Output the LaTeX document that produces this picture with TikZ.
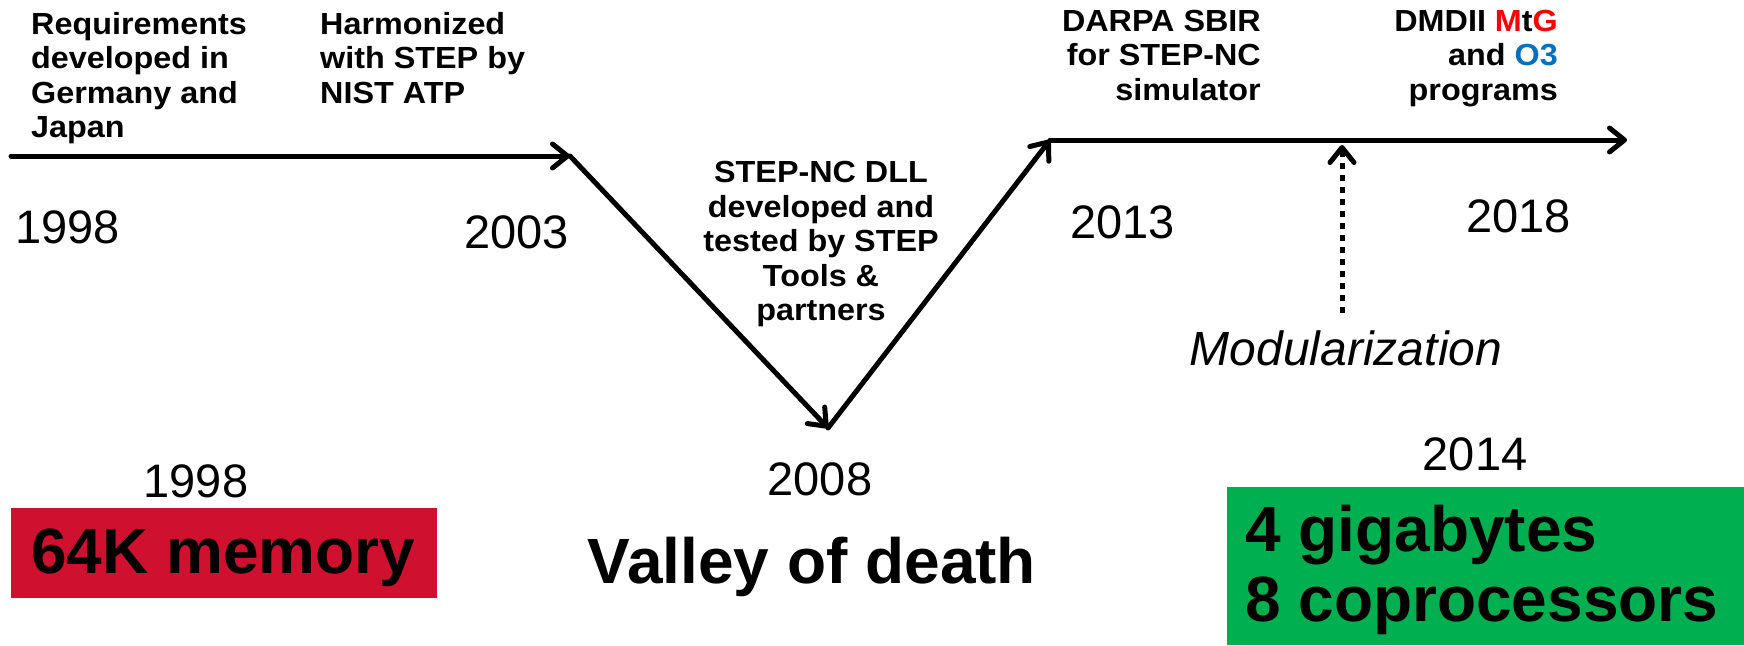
\documentclass[tikz,border=0pt]{standalone}
\usepackage{fontspec}
\setmainfont{Liberation Sans}
\newfontfamily\topfont[FakeStretch=1.06]{Liberation Sans}
\usetikzlibrary{arrows.meta}
\definecolor{boxred}{RGB}{208,16,47}
\definecolor{boxgreen}{RGB}{0,176,80}
\definecolor{mtgred}{RGB}{255,0,0}
\definecolor{othree}{RGB}{0,112,192}
\tikzset{
  arr/.style={line width=5pt, line cap=round, line join=round,
    -{Straight Barb[length=15pt,width=24pt,line cap=round,line join=round]}},
  dotarr/.style={line width=5pt, dash pattern=on 6pt off 6pt,
    -{Straight Barb[length=15pt,width=24pt,line cap=round,line join=round,sep=0pt]}},
  toplabel/.style={inner sep=0pt, font=\topfont\bfseries\fontsize{30.5}{34.5}\selectfont},
  year/.style={inner sep=0pt, font=\fontsize{47}{50}\selectfont},
  big/.style={inner sep=0pt, font=\bfseries\fontsize{64}{70}\selectfont},
}
\begin{document}
\begin{tikzpicture}[x=1pt,y=-1pt]
\useasboundingbox (0,0) rectangle (1744,645);
% boxes
\fill[boxred] (11,508) rectangle (437,598);
\fill[boxgreen] (1227,487) rectangle (1744,645);
% path coordinates
\coordinate (p1) at (11,156);
\coordinate (p2) at (570,156);
\coordinate (p3) at (828,428);
\coordinate (p4) at (1050,140);
\coordinate (p5) at (1627,140);
\coordinate (m1) at (1342,313);
\coordinate (m2) at (1342,145);
\draw[arr] (p1) -- (p2);
\draw[arr] (p2) -- (p3);
\draw[arr] (p3) -- (p4);
\draw[arr] (p4) -- (p5);
\draw[dotarr] (m1) -- (m2);
% top labels
\node[toplabel, anchor=north west, align=left] (req) at (31,12)
  {Requirements\\developed in\\Germany and\\Japan};
\node[toplabel, anchor=north west, align=left] (harm) at (320,12)
  {Harmonized\\with STEP by\\NIST ATP};
\node[toplabel, anchor=north, align=center] (dll) at (821,161)
  {STEP-NC DLL\\developed and\\tested by STEP\\Tools \&\\partners};
\node[toplabel, anchor=north east, align=right] (darpa) at (1261,10)
  {DARPA SBIR\\for STEP-NC\\simulator};
\node[toplabel, anchor=north east, align=right] (dmdii) at (1558,10)
  {DMDII \textcolor{mtgred}{M}t\textcolor{mtgred}{G}\\and \textcolor{othree}{O3}\\programs};
% years on the timeline
\node[year, anchor=base west] (y1998) at (15,243) {1998};
\node[year, anchor=base west] (y2003) at (464,248) {2003};
\node[year, anchor=base west] (y2013) at (1070,238) {2013};
\node[year, anchor=base west] (y2018) at (1466,232) {2018};
\node[inner sep=0pt, anchor=base, font=\itshape\fontsize{48}{50}\selectfont] (mod) at (1346,365) {Modularization};
% bottom row
\node[year, anchor=base] (b1998) at (196,497) {1998};
\node[year, anchor=base] (b2008) at (820,495) {2008};
\node[year, anchor=base] (b2014) at (1475,470) {2014};
\node[big, anchor=base west] (mem) at (31,573) {64K memory};
\node[big, anchor=base] (valley) at (812,583) {Valley of death};
\node[big, anchor=north west, align=left] (giga) at (1245,505)
  {4 gigabytes\\8 coprocessors};
\end{tikzpicture}
\end{document}
